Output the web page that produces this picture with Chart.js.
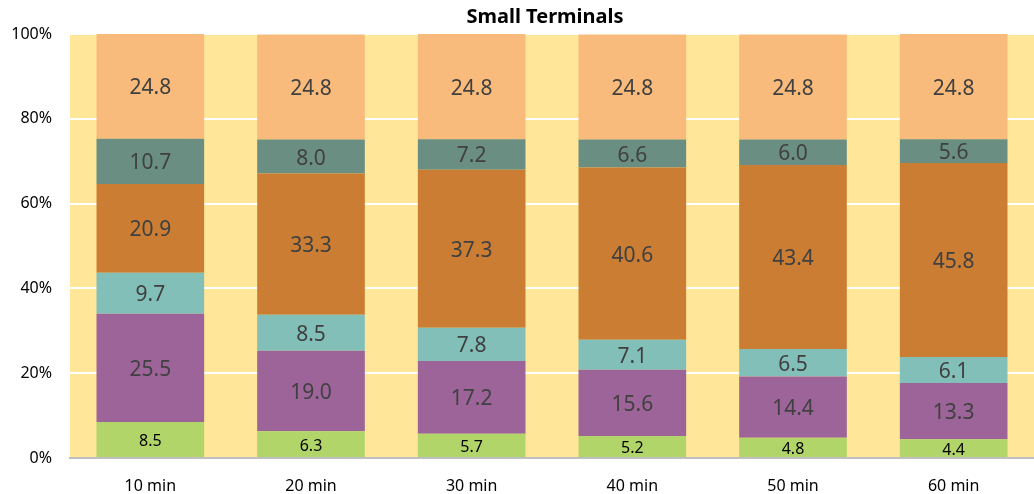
<!DOCTYPE html>
<html>
<head>
<meta charset="utf-8">
<script src="https://cdn.jsdelivr.net/npm/chart.js@4"></script>
<style>
  body { margin: 0; background: #fff; }
</style>
</head>
<body>
<canvas id="chart" width="1034" height="494"></canvas>
<script>
// categories and series (bottom to top of the stack)
const categories = ['10 min', '20 min', '30 min', '40 min', '50 min', '60 min'];
const greenVals = [8.5, 6.3, 5.7, 5.2, 4.8, 4.4];
const purpleVals = [25.5, 19.0, 17.2, 15.6, 14.4, 13.3];
const tealVals = [9.7, 8.5, 7.8, 7.1, 6.5, 6.1];
const brownVals = [20.9, 33.3, 37.3, 40.6, 43.4, 45.8];
const slateVals = [10.7, 8.0, 7.2, 6.6, 6.0, 5.6];
const peachVals = [24.8, 24.8, 24.8, 24.8, 24.8, 24.8];
const yTicks = [0, 20, 40, 60, 80, 100];

const FONT = "'Noto Sans', sans-serif";

function series(data, color, labelSize, labelColor) {
    return {
        data: data,
        backgroundColor: color,
        borderWidth: 0,
        barPercentage: 0.67,
        categoryPercentage: 1,
        labelSize: labelSize,
        labelColor: labelColor
    };
}

// yellow plot area behind the bars
const plotBg = {
    id: 'plotBg',
    beforeDraw(chart) {
        const a = chart.chartArea;
        const ctx = chart.ctx;
        ctx.save();
        ctx.fillStyle = '#FFE699';
        ctx.fillRect(a.left, a.top, a.right - a.left, a.bottom - a.top);
        ctx.restore();
    }
};

// value labels in the middle of each segment, plus the title
const barLabels = {
    id: 'barLabels',
    afterDatasetsDraw(chart) {
        const ctx = chart.ctx;
        ctx.save();
        ctx.textAlign = 'center';
        ctx.textBaseline = 'middle';
        chart.data.datasets.forEach((ds, i) => {
            const meta = chart.getDatasetMeta(i);
            meta.data.forEach((bar, j) => {
                const p = bar.getProps(['x', 'y', 'base'], true);
                ctx.font = ds.labelSize + 'px ' + FONT;
                ctx.fillStyle = ds.labelColor;
                ctx.fillText(ds.data[j].toFixed(1), p.x, (p.y + p.base) / 2 + 2);
            });
        });
        ctx.font = 'bold 20px ' + FONT;
        ctx.fillStyle = '#000';
        ctx.fillText('Small Terminals', 545, 17);
        ctx.restore();
    }
};

new Chart(document.getElementById('chart'), {
    type: 'bar',
    data: {
        labels: categories,
        datasets: [
            series(greenVals, '#B2D56A', 16, '#000000'),
            series(purpleVals, '#9D6499', 21, '#404040'),
            series(tealVals, '#82BFB9', 21, '#404040'),
            series(brownVals, '#CB7E33', 21, '#404040'),
            series(slateVals, '#6A8F82', 21, '#404040'),
            series(peachVals, '#F9BB7B', 21, '#404040')
        ]
    },
    options: {
        responsive: false,
        animation: false,
        layout: { padding: { top: 34, right: 0, left: 0, bottom: 0 } },
        plugins: {
            legend: { display: false },
            tooltip: { enabled: false },
            title: { display: false }
        },
        scales: {
            x: {
                stacked: true,
                grid: { display: false },
                border: { color: '#BFBFBF', width: 2 },
                ticks: { color: '#000', font: { family: FONT, size: 16 }, padding: 11, maxRotation: 0 },
                afterFit: s => { s.height = 36; }
            },
            y: {
                stacked: true,
                min: 0,
                max: 100,
                afterBuildTicks: s => { s.ticks = yTicks.map(v => ({ value: v })); },
                grid: { color: '#FFFFFF', lineWidth: 2, drawTicks: false },
                border: { display: false },
                ticks: {
                    color: '#000',
                    font: { family: FONT, size: 16 },
                    padding: 18,
                    callback: v => v + '%'
                },
                afterFit: s => { s.width = 70; }
            }
        }
    },
    plugins: [plotBg, barLabels]
});
</script>
</body>
</html>
